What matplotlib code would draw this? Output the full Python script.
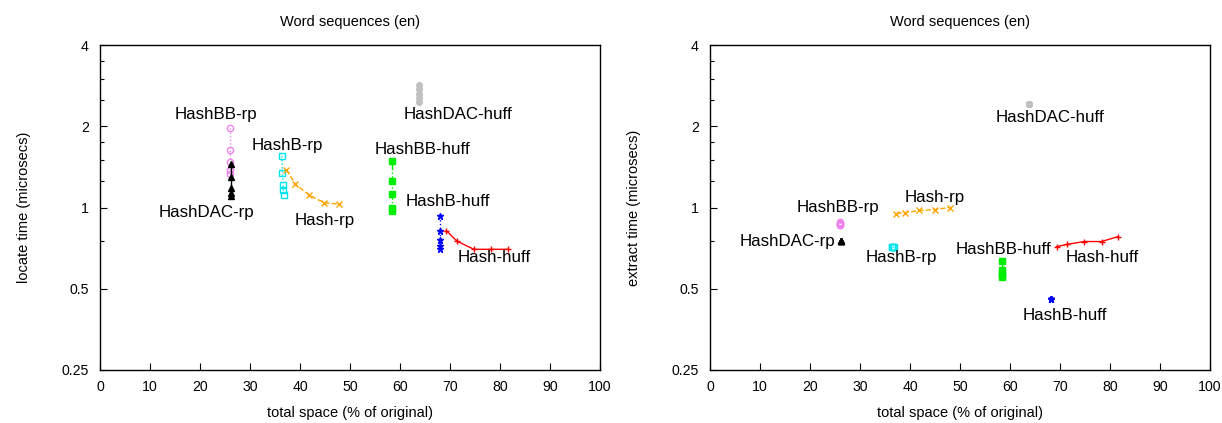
import numpy as np
import matplotlib
matplotlib.use("Agg")
import matplotlib.pyplot as plt
from matplotlib.ticker import FixedLocator, NullFormatter

plt.rcParams['font.family'] = ['Liberation Sans', 'DejaVu Sans']

# space (% of original) shared by both panels
hash_rp_space = [37.3, 39.1, 41.9, 44.9, 47.9]
hashb_rp_space = [36.4, 36.5, 36.6, 36.7, 36.8]
hashbb_rp_space = [26.0, 26.0, 26.0, 26.0, 26.0]
hashdac_rp_space = [26.2, 26.2, 26.2, 26.2, 26.2]
hash_huff_space = [69.3, 71.4, 74.8, 78.3, 81.6]
hashb_huff_space = [68.1, 68.1, 68.1, 68.1, 68.1]
hashbb_huff_space = [58.4, 58.4, 58.4, 58.4, 58.4]
hashdac_huff_space = [63.8, 63.8, 63.8, 63.8, 63.8]

# locate time (microsecs)
hash_rp_locate = [1.38, 1.22, 1.11, 1.04, 1.03]
hashb_rp_locate = [1.55, 1.34, 1.21, 1.16, 1.11]
hashbb_rp_locate = [1.97, 1.63, 1.47, 1.38, 1.33]
hashdac_rp_locate = [1.45, 1.30, 1.18, 1.13, 1.10]
hash_huff_locate = [0.82, 0.75, 0.70, 0.70, 0.70]
hashb_huff_locate = [0.93, 0.82, 0.76, 0.72, 0.70]
hashbb_huff_locate = [1.49, 1.25, 1.12, 1.00, 0.97]
hashdac_huff_locate = [2.85, 2.74, 2.63, 2.54, 2.47]

# extract time (microsecs)
hash_rp_extract = [0.95, 0.958, 0.975, 0.983, 1.0]
hashb_rp_extract = [0.716, 0.716, 0.716, 0.716, 0.716]
hashbb_rp_extract = [0.88, 0.875, 0.87, 0.865, 0.86]
hashdac_rp_extract = [0.754, 0.754, 0.754, 0.754, 0.754]
hash_huff_extract = [0.716, 0.73, 0.748, 0.748, 0.78]
hashb_huff_extract = [0.46, 0.46, 0.459, 0.458, 0.458]
hashbb_huff_extract = [0.636, 0.585, 0.57, 0.56, 0.555]
hashdac_huff_extract = [2.41, 2.41, 2.41, 2.41, 2.41]

series = [
    # name, space, locate, extract, color, marker, mfc, linestyle, size
    ("HashBB-rp", hashbb_rp_space, hashbb_rp_locate, hashbb_rp_extract, "#ee82ee", "o", "none", ":", 4.5),
    ("HashDAC-rp", hashdac_rp_space, hashdac_rp_locate, hashdac_rp_extract, "black", "^", "black", "-", 4),
    ("HashB-rp", hashb_rp_space, hashb_rp_locate, hashb_rp_extract, "#00e5ee", "s", "none", ":", 4.5),
    ("Hash-rp", hash_rp_space, hash_rp_locate, hash_rp_extract, "#ffa500", "x", "none", "--", 4.5),
    ("HashDAC-huff", hashdac_huff_space, hashdac_huff_locate, hashdac_huff_extract, "#c0c0c0", "o", "#c0c0c0", "-", 4),
    ("HashBB-huff", hashbb_huff_space, hashbb_huff_locate, hashbb_huff_extract, "#00ee00", "s", "#00ee00", "-.", 4.5),
    ("HashB-huff", hashb_huff_space, hashb_huff_locate, hashb_huff_extract, "#0000ff", "*", "#0000ff", ":", 5),
    ("Hash-huff", hash_huff_space, hash_huff_locate, hash_huff_extract, "#ff0000", "+", "none", "-", 5),
]

# label anchors (x, y, ha) for each panel
locate_labels = {
    "HashBB-rp": (23.2, 2.21, "center"),
    "HashB-rp": (37.4, 1.69, "center"),
    "HashDAC-rp": (21.2, 0.96, "center"),
    "Hash-rp": (45.0, 0.895, "center"),
    "HashDAC-huff": (71.6, 2.21, "center"),
    "HashBB-huff": (64.6, 1.64, "center"),
    "HashB-huff": (69.6, 1.05, "center"),
    "Hash-huff": (78.8, 0.65, "center"),
}
extract_labels = {
    "HashDAC-huff": (68.0, 2.16, "center"),
    "Hash-rp": (45.0, 1.09, "center"),
    "HashBB-rp": (25.6, 1.0, "center"),
    "HashDAC-rp": (25.0, 0.748, "right"),
    "HashB-rp": (38.2, 0.65, "center"),
    "HashBB-huff": (58.6, 0.70, "center"),
    "Hash-huff": (78.4, 0.65, "center"),
    "HashB-huff": (71.0, 0.397, "center"),
}

fig = plt.figure(figsize=(12.22, 4.23), dpi=100)
ax1 = fig.add_axes([0.0818, 0.1253, 0.4092, 0.7683])
ax2 = fig.add_axes([0.5810, 0.1253, 0.4092, 0.7683])

for ax, key, labels, ylabel in [(ax1, 2, locate_labels, "locate time (microsecs)"),
                                (ax2, 3, extract_labels, "extract time (microsecs)")]:
    for s in series:
        name, xs, ys = s[0], s[1], s[key]
        color, marker, mfc, ls, ms = s[4], s[5], s[6], s[7], s[8]
        ax.plot(xs, ys, linestyle=ls, color=color, marker=marker, markersize=ms,
                markerfacecolor=mfc, markeredgecolor=color, linewidth=1, markeredgewidth=1)
        lx, ly, ha = labels[name]
        ax.text(lx, ly, name, ha=ha, va="center", fontsize=12.2)
    ax.set_yscale("log", base=2)
    ax.set_xlim(0, 100)
    ax.set_ylim(0.25, 4)
    ax.set_xticks(np.arange(0, 101, 10))
    ax.yaxis.set_major_locator(FixedLocator([0.25, 0.5, 1, 2, 4]))
    ax.set_yticklabels(["0.25", "0.5", "1", "2", "4"])
    ax.yaxis.set_minor_locator(FixedLocator([0.75, 1.25, 1.5, 1.75, 2.5, 3, 3.5]))
    ax.yaxis.set_minor_formatter(NullFormatter())
    ax.tick_params(direction="in", labelsize=10.2, length=5, width=0.8)
    ax.tick_params(axis="x", pad=7)
    ax.tick_params(axis="y", pad=8)
    ax.tick_params(which="minor", direction="in", length=3, width=0.8)
    for sp in ax.spines.values():
        sp.set_linewidth(1)
    ax.set_xlabel("total space (% of original)", fontsize=10.5, labelpad=9)
    ax.set_ylabel(ylabel, fontsize=10.5, labelpad=22)
    ax.set_title("Word sequences (en)", fontsize=10.5, pad=14)

fig.savefig("out.png", dpi=100)
